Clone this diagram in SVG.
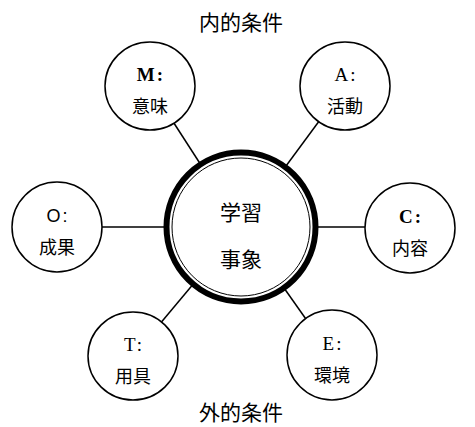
<svg xmlns="http://www.w3.org/2000/svg" width="475" height="427" viewBox="0 0 475 427">
<style>
.sat{fill:#fff;stroke:#000;stroke-width:1.5}
.lat{font-family:"Liberation Serif",serif;font-size:19px;text-anchor:middle;fill:#000;letter-spacing:2px}
.b{font-weight:bold}
.sans{font-family:"Liberation Sans",sans-serif;font-size:18px}
.jp{font-family:"Noto Sans CJK JP",sans-serif;font-size:18px;text-anchor:middle;fill:#000}
.big{font-size:21px}
.conn line{stroke:#000;stroke-width:1.5}
</style>
<rect width="475" height="427" fill="#fff"/>
<g id="connectors" class="conn">
<line x1="241" y1="227" x2="150" y2="86"/>
<line x1="241" y1="227" x2="345" y2="86"/>
<line x1="241" y1="227" x2="57" y2="227"/>
<line x1="241" y1="227" x2="410" y2="227"/>
<line x1="241" y1="227" x2="133" y2="356"/>
<line x1="241" y1="227" x2="332" y2="356"/>
</g>
<g id="center">
<circle cx="241" cy="227" r="74.5" fill="#fff" stroke="#000" stroke-width="6"/>
<circle cx="241" cy="227" r="69" fill="none" stroke="#000" stroke-width="1"/>
<text class="jp big" x="241" y="220">学習</text>
<text class="jp big" x="241" y="267">事象</text>
</g>
<g id="M">
<ellipse class="sat" cx="150" cy="86" rx="45" ry="44"/>
<text class="lat b" x="151" y="81">M:</text>
<text class="jp" x="150" y="113">意味</text>
</g>
<g id="A">
<ellipse class="sat" cx="345" cy="86" rx="45" ry="44"/>
<text class="lat" x="346" y="81">A:</text>
<text class="jp" x="345" y="113">活動</text>
</g>
<g id="O">
<ellipse class="sat" cx="57" cy="227" rx="45" ry="45"/>
<text class="lat sans" x="58" y="222">O:</text>
<text class="jp" x="57" y="254">成果</text>
</g>
<g id="C">
<ellipse class="sat" cx="410" cy="228" rx="45" ry="45"/>
<text class="lat b" x="411" y="223">C:</text>
<text class="jp" x="410" y="255">内容</text>
</g>
<g id="T">
<ellipse class="sat" cx="133" cy="356" rx="45" ry="44"/>
<text class="lat" x="134" y="351">T:</text>
<text class="jp" x="133" y="383">用具</text>
</g>
<g id="E">
<ellipse class="sat" cx="332" cy="355" rx="45" ry="45"/>
<text class="lat" x="333" y="350">E:</text>
<text class="jp" x="332" y="382">環境</text>
</g>
<g id="labels">
<text class="jp big" x="241" y="30">内的条件</text>
<text class="jp big" x="241" y="420">外的条件</text>
</g>
</svg>
